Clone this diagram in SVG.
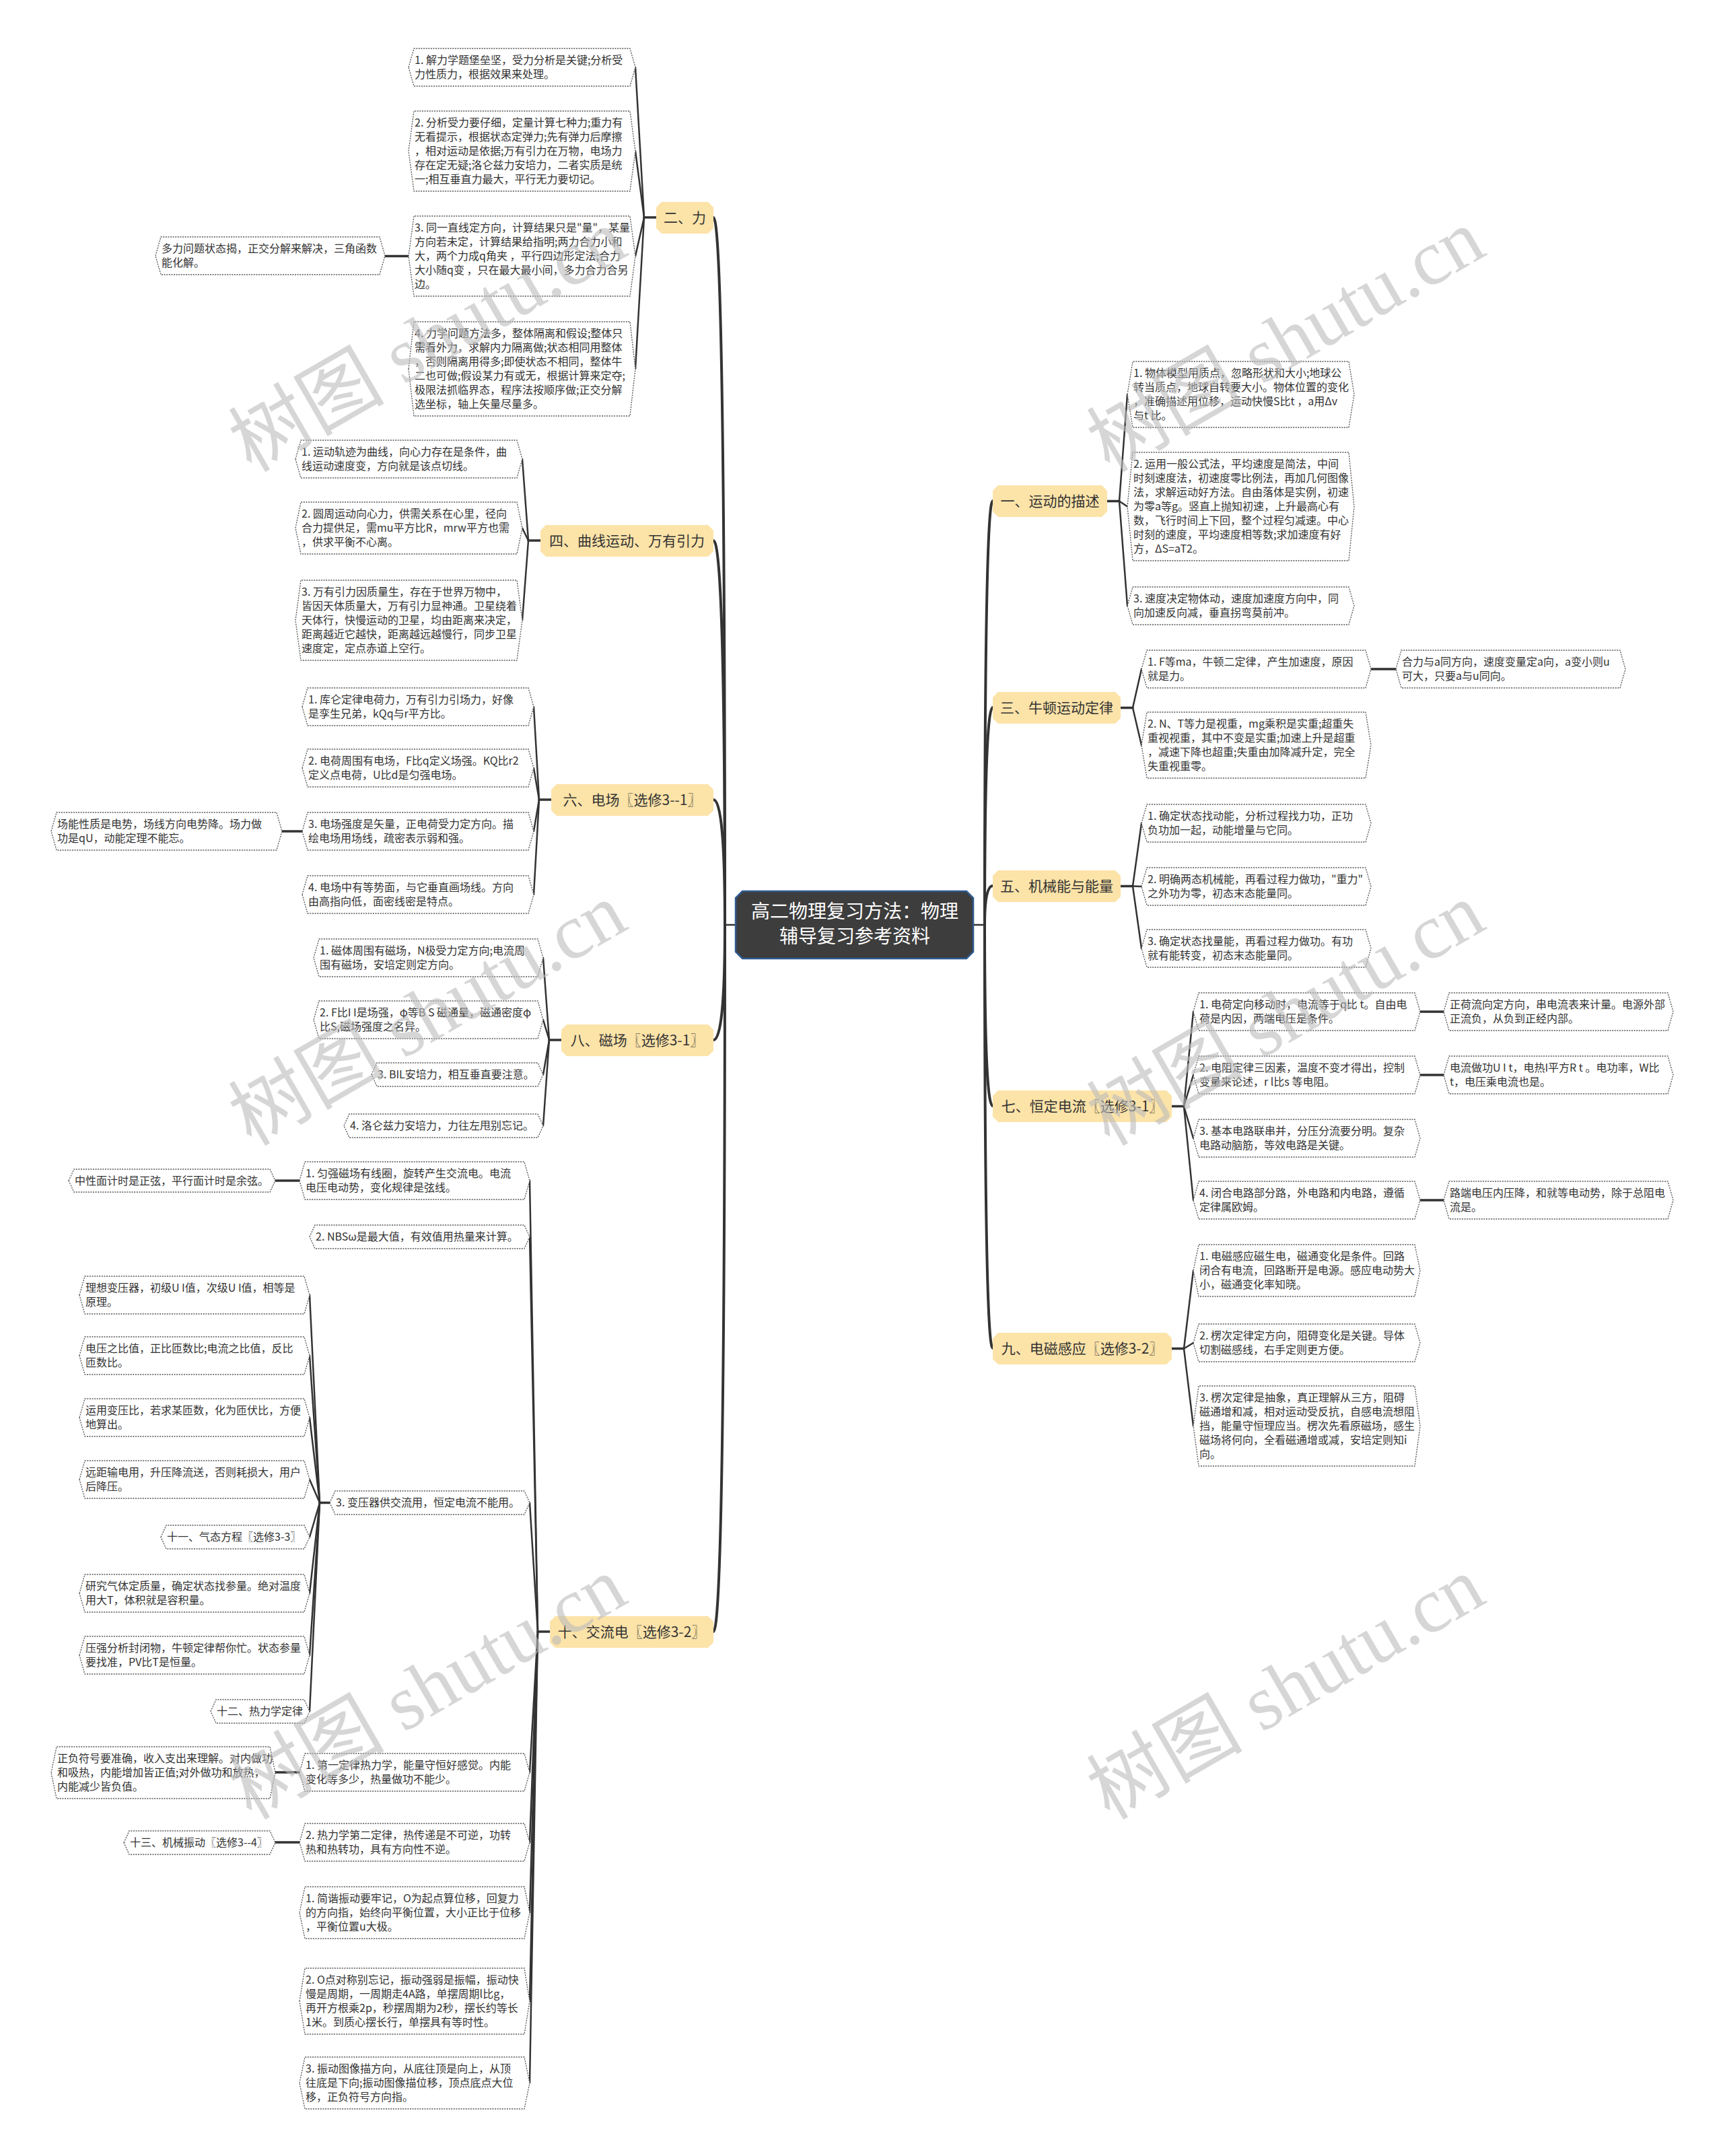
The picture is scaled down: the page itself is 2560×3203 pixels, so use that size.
<svg xmlns="http://www.w3.org/2000/svg" width="2560" height="3203" viewBox="0 0 2560 3203">
<style>
text{font-family:"Noto Sans CJK SC","Noto Sans",sans-serif;}
.leaf polygon{fill:#fff;stroke:#555;stroke-width:1.3;stroke-dasharray:2 1.6;}
.leaf text{font-size:16px;fill:#333;}
.br polygon{fill:#fce3a8;}
.br text{font-size:21px;fill:#333;text-anchor:middle;}
.ln path{fill:none;stroke:#333;stroke-width:2.5;stroke-linecap:round;}
.ln .tr{stroke-width:4;}
.ln .gc{stroke-width:3.5;}
.wm{font-family:"Liberation Serif","Noto Sans CJK SC",serif;font-size:116px;fill:#bcbcbc;opacity:0.6;text-anchor:middle;}
</style>
<rect width="2560" height="3203" fill="#fff"/>

<g id="connectors" class="ln">
<path d="M1093,1374 H1077"/>
<path class="tr" d="M1077,1374 Q1077,323 1060,323"/>
<path class="tr" d="M1077,1374 Q1077,803 1060,803"/>
<path class="tr" d="M1077,1374 Q1077,1188 1060,1188"/>
<path class="tr" d="M1077,1374 Q1077,1545 1060,1545"/>
<path class="tr" d="M1077,1374 Q1077,2424 1060,2424"/>
<path d="M1446,1374 H1463"/>
<path class="tr" d="M1463,1374 Q1463,744 1475,744"/>
<path class="tr" d="M1463,1374 Q1463,1051 1475,1051"/>
<path class="tr" d="M1463,1374 Q1463,1316 1475,1316"/>
<path class="tr" d="M1463,1374 Q1463,1643 1475,1643"/>
<path class="tr" d="M1463,1374 Q1463,2003 1475,2003"/>

<path class="gc" d="M975,323 H957"/>
<path d="M957,323 L944,100"/>
<path d="M957,323 L944,224.5"/>
<path d="M957,323 L944,380.5"/>
<path d="M957,323 L944,548"/>
<path class="gc" d="M607,380.5 H572"/>

<path class="gc" d="M803,803 H785"/>
<path d="M785,803 L776,682"/>
<path d="M785,803 L776,784.5"/>
<path d="M785,803 L776,921.5"/>

<path class="gc" d="M819,1188 H801"/>
<path d="M801,1188 L793,1050"/>
<path d="M801,1188 L793,1141"/>
<path d="M801,1188 L793,1235"/>
<path d="M801,1188 L793,1329"/>
<path class="gc" d="M449,1235 H419"/>

<path class="gc" d="M834,1545 H816"/>
<path d="M816,1545 L807,1423"/>
<path d="M816,1545 L807,1515"/>
<path d="M816,1545 L807,1596.5"/>
<path d="M816,1545 L807,1672.5"/>

<path class="gc" d="M817,2424 H799"/>
<path d="M799,2424 L787,1754"/>
<path d="M799,2424 L787,1837.5"/>
<path d="M799,2424 L787,2232.5"/>
<path d="M799,2424 L787,2633"/>
<path d="M799,2424 L787,2737"/>
<path d="M799,2424 L787,2841.5"/>
<path d="M799,2424 L787,2973"/>
<path d="M799,2424 L787,3094.5"/>
<path class="gc" d="M445,1754 H409"/>
<path class="gc" d="M490,2232.5 H475"/>
<path d="M475,2232.5 L460,1924"/>
<path d="M475,2232.5 L460,2014"/>
<path d="M475,2232.5 L460,2106"/>
<path d="M475,2232.5 L460,2198"/>
<path d="M475,2232.5 L460,2283.5"/>
<path d="M475,2232.5 L460,2367"/>
<path d="M475,2232.5 L460,2459"/>
<path d="M475,2232.5 L460,2542.5"/>
<path class="gc" d="M445,2633 H409"/>
<path class="gc" d="M445,2737 H409"/>

<path class="gc" d="M1645,744.5 H1663"/>
<path d="M1663,744.5 L1675,586"/>
<path d="M1663,744.5 L1675,752.5"/>
<path d="M1663,744.5 L1675,900"/>

<path class="gc" d="M1665,1051.5 H1683"/>
<path d="M1683,1051.5 L1696,994"/>
<path d="M1683,1051.5 L1696,1107"/>
<path class="gc" d="M2037,994 H2074"/>

<path class="gc" d="M1665,1316.5 H1683"/>
<path d="M1683,1316.5 L1696,1223"/>
<path d="M1683,1316.5 L1696,1317"/>
<path d="M1683,1316.5 L1696,1409"/>

<path class="gc" d="M1741,1643.5 H1759"/>
<path d="M1759,1643.5 L1773,1503"/>
<path d="M1759,1643.5 L1773,1597"/>
<path d="M1759,1643.5 L1773,1691"/>
<path d="M1759,1643.5 L1773,1783"/>
<path class="gc" d="M2110,1503 H2145"/>
<path class="gc" d="M2110,1597 H2145"/>
<path class="gc" d="M2110,1783 H2145"/>

<path class="gc" d="M1741,2003.5 H1759"/>
<path d="M1759,2003.5 L1773,1887.5"/>
<path d="M1759,2003.5 L1773,1995"/>
<path d="M1759,2003.5 L1773,2118.5"/>
</g>

<g id="center">
<polygon points="1103,1324 1436,1324 1446,1334 1446,1414 1436,1424 1103,1424 1093,1414 1093,1334" fill="#3d3d3d" stroke="#2f5a8f" stroke-width="2.5"/>
<text x="1270" y="1364" font-size="28" fill="#fff" text-anchor="middle">高二物理复习方法：物理</text>
<text x="1270" y="1401" font-size="28" fill="#fff" text-anchor="middle">辅导复习参考资料</text>
</g>

<!-- Left branches -->
<g id="b2" class="br"><polygon points="983,300 1052,300 1060,308 1060,339 1052,347 983,347 975,339 975,308"/><text x="1017.5" y="331">二、力</text></g>
<g id="b4" class="br"><polygon points="811,780 1052,780 1060,788 1060,819 1052,827 811,827 803,819 803,788"/><text x="931.5" y="811">四、曲线运动、万有引力</text></g>
<g id="b6" class="br"><polygon points="827,1165 1052,1165 1060,1173 1060,1204 1052,1212 827,1212 819,1204 819,1173"/><text x="939.5" y="1196">六、电场〖选修3--1〗</text></g>
<g id="b8" class="br"><polygon points="842,1522 1052,1522 1060,1530 1060,1561 1052,1569 842,1569 834,1561 834,1530"/><text x="947" y="1553">八、磁场〖选修3-1〗</text></g>
<g id="b10" class="br"><polygon points="825,2401 1052,2401 1060,2409 1060,2440 1052,2448 825,2448 817,2440 817,2409"/><text x="938.5" y="2432">十、交流电〖选修3-2〗</text></g>

<!-- Right branches -->
<g id="b1" class="br"><polygon points="1483,721 1637,721 1645,729 1645,760 1637,768 1483,768 1475,760 1475,729"/><text x="1560" y="752">一、运动的描述</text></g>
<g id="b3" class="br"><polygon points="1483,1028 1657,1028 1665,1036 1665,1067 1657,1075 1483,1075 1475,1067 1475,1036"/><text x="1570" y="1059">三、牛顿运动定律</text></g>
<g id="b5" class="br"><polygon points="1483,1293 1657,1293 1665,1301 1665,1332 1657,1340 1483,1340 1475,1332 1475,1301"/><text x="1570" y="1324">五、机械能与能量</text></g>
<g id="b7" class="br"><polygon points="1483,1620 1733,1620 1741,1628 1741,1659 1733,1667 1483,1667 1475,1659 1475,1628"/><text x="1608" y="1651">七、恒定电流〖选修3-1〗</text></g>
<g id="b9" class="br"><polygon points="1483,1980 1733,1980 1741,1988 1741,2019 1733,2027 1483,2027 1475,2019 1475,1988"/><text x="1608" y="2011">九、电磁感应〖选修3-2〗</text></g>

<!-- 二、力 leaves -->
<g id="l2_1" class="leaf"><polygon points="607,100 615,72 936,72 944,100 936,128 615,128"/><text><tspan x="616" y="95">1. 解力学题堡垒坚，受力分析是关键;分析受</tspan><tspan x="616" y="116">力性质力，根据效果来处理。</tspan></text></g>
<g id="l2_2" class="leaf"><polygon points="607,224.5 615,165 936,165 944,224.5 936,284 615,284"/><text><tspan x="616" y="188">2. 分析受力要仔细，定量计算七种力;重力有</tspan><tspan x="616" y="209">无看提示，根据状态定弹力;先有弹力后摩擦</tspan><tspan x="616" y="230">，相对运动是依据;万有引力在万物，电场力</tspan><tspan x="616" y="251">存在定无疑;洛仑兹力安培力，二者实质是统</tspan><tspan x="616" y="272">一;相互垂直力最大，平行无力要切记。</tspan></text></g>
<g id="l2_3" class="leaf"><polygon points="607,380.5 615,321 936,321 944,380.5 936,440 615,440"/><text><tspan x="616" y="344">3. 同一直线定方向，计算结果只是"量"，某量</tspan><tspan x="616" y="365">方向若未定，计算结果给指明;两力合力小和</tspan><tspan x="616" y="386">大，两个力成q角夹 ，平行四边形定法;合力</tspan><tspan x="616" y="407">大小随q变 ，只在最大最小间，多力合力合另</tspan><tspan x="616" y="428">边。</tspan></text></g>
<g id="l2_3a" class="leaf"><polygon points="231,380 239,352 564,352 572,380 564,408 239,408"/><text><tspan x="240" y="375">多力问题状态揭，正交分解来解决，三角函数</tspan><tspan x="240" y="396">能化解。</tspan></text></g>
<g id="l2_4" class="leaf"><polygon points="607,548 615,478 936,478 944,548 936,618 615,618"/><text><tspan x="616" y="501">4. 力学问题方法多，整体隔离和假设;整体只</tspan><tspan x="616" y="522">需看外力，求解内力隔离做;状态相同用整体</tspan><tspan x="616" y="543">，否则隔离用得多;即使状态不相同，整体牛</tspan><tspan x="616" y="564">二也可做;假设某力有或无，根据计算来定夺;</tspan><tspan x="616" y="585">极限法抓临界态，程序法按顺序做;正交分解</tspan><tspan x="616" y="606">选坐标，轴上矢量尽量多。</tspan></text></g>

<!-- 四 leaves -->
<g id="l4_1" class="leaf"><polygon points="439,682 447,654 768,654 776,682 768,710 447,710"/><text><tspan x="448" y="677">1. 运动轨迹为曲线，向心力存在是条件，曲</tspan><tspan x="448" y="698">线运动速度变，方向就是该点切线。</tspan></text></g>
<g id="l4_2" class="leaf"><polygon points="439,784.5 447,746 768,746 776,784.5 768,823 447,823"/><text><tspan x="448" y="769">2. 圆周运动向心力，供需关系在心里，径向</tspan><tspan x="448" y="790">合力提供足，需mu平方比R，mrw平方也需</tspan><tspan x="448" y="811">，供求平衡不心离。</tspan></text></g>
<g id="l4_3" class="leaf"><polygon points="439,921.5 447,862 768,862 776,921.5 768,981 447,981"/><text><tspan x="448" y="885">3. 万有引力因质量生，存在于世界万物中，</tspan><tspan x="448" y="906">皆因天体质量大，万有引力显神通。卫星绕着</tspan><tspan x="448" y="927">天体行，快慢运动的卫星，均由距离来决定，</tspan><tspan x="448" y="948">距离越近它越快，距离越远越慢行，同步卫星</tspan><tspan x="448" y="969">速度定，定点赤道上空行。</tspan></text></g>

<!-- 六 leaves -->
<g id="l6_1" class="leaf"><polygon points="449,1050 457,1022 785,1022 793,1050 785,1078 457,1078"/><text><tspan x="458" y="1045">1. 库仑定律电荷力，万有引力引场力，好像</tspan><tspan x="458" y="1066">是孪生兄弟，kQq与r平方比。</tspan></text></g>
<g id="l6_2" class="leaf"><polygon points="449,1141 457,1113 785,1113 793,1141 785,1169 457,1169"/><text><tspan x="458" y="1136">2. 电荷周围有电场，F比q定义场强。KQ比r2</tspan><tspan x="458" y="1157">定义点电荷，U比d是匀强电场。</tspan></text></g>
<g id="l6_3" class="leaf"><polygon points="449,1235 457,1207 785,1207 793,1235 785,1263 457,1263"/><text><tspan x="458" y="1230">3. 电场强度是矢量，正电荷受力定方向。描</tspan><tspan x="458" y="1251">绘电场用场线，疏密表示弱和强。</tspan></text></g>
<g id="l6_3a" class="leaf"><polygon points="76,1235 84,1207 411,1207 419,1235 411,1263 84,1263"/><text><tspan x="85" y="1230">场能性质是电势，场线方向电势降。场力做</tspan><tspan x="85" y="1251">功是qU，动能定理不能忘。</tspan></text></g>
<g id="l6_4" class="leaf"><polygon points="449,1329 457,1301 785,1301 793,1329 785,1357 457,1357"/><text><tspan x="458" y="1324">4. 电场中有等势面，与它垂直画场线。方向</tspan><tspan x="458" y="1345">由高指向低，面密线密是特点。</tspan></text></g>

<!-- 八 leaves -->
<g id="l8_1" class="leaf"><polygon points="466,1423 474,1395 799,1395 807,1423 799,1451 474,1451"/><text><tspan x="475" y="1418">1. 磁体周围有磁场，N极受力定方向;电流周</tspan><tspan x="475" y="1439">围有磁场，安培定则定方向。</tspan></text></g>
<g id="l8_2" class="leaf"><polygon points="466,1515 474,1487 799,1487 807,1515 799,1543 474,1543"/><text><tspan x="475" y="1510">2. F比I I是场强，φ等B S 磁通量，磁通密度φ</tspan><tspan x="475" y="1531">比S,磁场强度之名异。</tspan></text></g>
<g id="l8_3" class="leaf"><polygon points="552,1596.5 560,1579 799,1579 807,1596.5 799,1614 560,1614"/><text><tspan x="561" y="1602">3. BIL安培力，相互垂直要注意。</tspan></text></g>
<g id="l8_4" class="leaf"><polygon points="511,1672.5 519,1655 799,1655 807,1672.5 799,1690 519,1690"/><text><tspan x="520" y="1678">4. 洛仑兹力安培力，力往左甩别忘记。</tspan></text></g>

<!-- 十 leaves -->
<g id="l10_1" class="leaf"><polygon points="445,1754 453,1726 779,1726 787,1754 779,1782 453,1782"/><text><tspan x="454" y="1749">1. 匀强磁场有线圈，旋转产生交流电。电流</tspan><tspan x="454" y="1770">电压电动势，变化规律是弦线。</tspan></text></g>
<g id="l10_1a" class="leaf"><polygon points="102,1754 110,1737 401,1737 409,1754 401,1771 110,1771"/><text><tspan x="111" y="1760">中性面计时是正弦，平行面计时是余弦。</tspan></text></g>
<g id="l10_2" class="leaf"><polygon points="460,1837.5 468,1820 779,1820 787,1837.5 779,1855 468,1855"/><text><tspan x="469" y="1843">2. NBSω是最大值，有效值用热量来计算。</tspan></text></g>
<g id="l10_3" class="leaf"><polygon points="490,2232.5 498,2215 779,2215 787,2232.5 779,2250 498,2250"/><text><tspan x="499" y="2238">3. 变压器供交流用，恒定电流不能用。</tspan></text></g>
<g id="l10_3a" class="leaf"><polygon points="118,1924 126,1896 452,1896 460,1924 452,1952 126,1952"/><text><tspan x="127" y="1919">理想变压器，初级U I值，次级U I值，相等是</tspan><tspan x="127" y="1940">原理。</tspan></text></g>
<g id="l10_3b" class="leaf"><polygon points="118,2014 126,1986 452,1986 460,2014 452,2042 126,2042"/><text><tspan x="127" y="2009">电压之比值，正比匝数比;电流之比值，反比</tspan><tspan x="127" y="2030">匝数比。</tspan></text></g>
<g id="l10_3c" class="leaf"><polygon points="118,2106 126,2078 452,2078 460,2106 452,2134 126,2134"/><text><tspan x="127" y="2101">运用变压比，若求某匝数，化为匝伏比，方便</tspan><tspan x="127" y="2122">地算出。</tspan></text></g>
<g id="l10_3d" class="leaf"><polygon points="118,2198 126,2170 452,2170 460,2198 452,2226 126,2226"/><text><tspan x="127" y="2193">远距输电用，升压降流送，否则耗损大，用户</tspan><tspan x="127" y="2214">后降压。</tspan></text></g>
<g id="l10_3e" class="leaf"><polygon points="239,2283.5 247,2266 452,2266 460,2283.5 452,2301 247,2301"/><text><tspan x="248" y="2289">十一、气态方程〖选修3-3〗</tspan></text></g>
<g id="l10_3f" class="leaf"><polygon points="118,2367 126,2339 452,2339 460,2367 452,2395 126,2395"/><text><tspan x="127" y="2362">研究气体定质量，确定状态找参量。绝对温度</tspan><tspan x="127" y="2383">用大T，体积就是容积量。</tspan></text></g>
<g id="l10_3g" class="leaf"><polygon points="118,2459 126,2431 452,2431 460,2459 452,2487 126,2487"/><text><tspan x="127" y="2454">压强分析封闭物，牛顿定律帮你忙。状态参量</tspan><tspan x="127" y="2475">要找准，PV比T是恒量。</tspan></text></g>
<g id="l10_3h" class="leaf"><polygon points="313,2542.5 321,2525 452,2525 460,2542.5 452,2560 321,2560"/><text><tspan x="322" y="2548">十二、热力学定律</tspan></text></g>
<g id="l10_4" class="leaf"><polygon points="445,2633 453,2605 779,2605 787,2633 779,2661 453,2661"/><text><tspan x="454" y="2628">1. 第一定律热力学，能量守恒好感觉。内能</tspan><tspan x="454" y="2649">变化等多少，热量做功不能少。</tspan></text></g>
<g id="l10_4a" class="leaf"><polygon points="76,2633.5 84,2595 401,2595 409,2633.5 401,2672 84,2672"/><text><tspan x="85" y="2618">正负符号要准确，收入支出来理解。对内做功</tspan><tspan x="85" y="2639">和吸热，内能增加皆正值;对外做功和放热，</tspan><tspan x="85" y="2660">内能减少皆负值。</tspan></text></g>
<g id="l10_5" class="leaf"><polygon points="445,2737 453,2709 779,2709 787,2737 779,2765 453,2765"/><text><tspan x="454" y="2732">2. 热力学第二定律，热传递是不可逆，功转</tspan><tspan x="454" y="2753">热和热转功，具有方向性不逆。</tspan></text></g>
<g id="l10_5a" class="leaf"><polygon points="184,2737.5 192,2720 401,2720 409,2737.5 401,2755 192,2755"/><text><tspan x="193" y="2743">十三、机械振动〖选修3--4〗</tspan></text></g>
<g id="l10_6" class="leaf"><polygon points="445,2841.5 453,2803 779,2803 787,2841.5 779,2880 453,2880"/><text><tspan x="454" y="2826">1. 简谐振动要牢记，O为起点算位移，回复力</tspan><tspan x="454" y="2847">的方向指，始终向平衡位置，大小正比于位移</tspan><tspan x="454" y="2868">，平衡位置u大极。</tspan></text></g>
<g id="l10_7" class="leaf"><polygon points="445,2973 453,2924 779,2924 787,2973 779,3022 453,3022"/><text><tspan x="454" y="2947">2. O点对称别忘记，振动强弱是振幅，振动快</tspan><tspan x="454" y="2968">慢是周期，一周期走4A路，单摆周期l比g，</tspan><tspan x="454" y="2989">再开方根乘2p，秒摆周期为2秒，摆长约等长</tspan><tspan x="454" y="3010">1米。到质心摆长行，单摆具有等时性。</tspan></text></g>
<g id="l10_8" class="leaf"><polygon points="445,3094.5 453,3056 779,3056 787,3094.5 779,3133 453,3133"/><text><tspan x="454" y="3079">3. 振动图像描方向，从底往顶是向上，从顶</tspan><tspan x="454" y="3100">往底是下向;振动图像描位移，顶点底点大位</tspan><tspan x="454" y="3121">移，正负符号方向指。</tspan></text></g>

<!-- 一 leaves -->
<g id="r1_1" class="leaf"><polygon points="1675,586 1683,537 2004,537 2012,586 2004,635 1683,635"/><text><tspan x="1684" y="560">1. 物体模型用质点，忽略形状和大小;地球公</tspan><tspan x="1684" y="581">转当质点，地球自转要大小。物体位置的变化</tspan><tspan x="1684" y="602">，准确描述用位移，运动快慢S比t ，a用Δv</tspan><tspan x="1684" y="623">与t 比。</tspan></text></g>
<g id="r1_2" class="leaf"><polygon points="1675,752.5 1683,672 2004,672 2012,752.5 2004,833 1683,833"/><text><tspan x="1684" y="695">2. 运用一般公式法，平均速度是简法，中间</tspan><tspan x="1684" y="716">时刻速度法，初速度零比例法，再加几何图像</tspan><tspan x="1684" y="737">法，求解运动好方法。自由落体是实例，初速</tspan><tspan x="1684" y="758">为零a等g。竖直上抛知初速，上升最高心有</tspan><tspan x="1684" y="779">数，飞行时间上下回，整个过程匀减速。中心</tspan><tspan x="1684" y="800">时刻的速度，平均速度相等数;求加速度有好</tspan><tspan x="1684" y="821">方，ΔS=aT2。</tspan></text></g>
<g id="r1_3" class="leaf"><polygon points="1675,900 1683,872 2004,872 2012,900 2004,928 1683,928"/><text><tspan x="1684" y="895">3. 速度决定物体动，速度加速度方向中，同</tspan><tspan x="1684" y="916">向加速反向减，垂直拐弯莫前冲。</tspan></text></g>

<!-- 三 leaves -->
<g id="r3_1" class="leaf"><polygon points="1696,994 1704,966 2029,966 2037,994 2029,1022 1704,1022"/><text><tspan x="1705" y="989">1. F等ma，牛顿二定律，产生加速度，原因</tspan><tspan x="1705" y="1010">就是力。</tspan></text></g>
<g id="r3_1a" class="leaf"><polygon points="2074,994 2082,966 2407,966 2415,994 2407,1022 2082,1022"/><text><tspan x="2083" y="989">合力与a同方向，速度变量定a向，a变小则u</tspan><tspan x="2083" y="1010">可大，只要a与u同向。</tspan></text></g>
<g id="r3_2" class="leaf"><polygon points="1696,1107 1704,1058 2029,1058 2037,1107 2029,1156 1704,1156"/><text><tspan x="1705" y="1081">2. N、T等力是视重，mg乘积是实重;超重失</tspan><tspan x="1705" y="1102">重视视重，其中不变是实重;加速上升是超重</tspan><tspan x="1705" y="1123">，减速下降也超重;失重由加降减升定，完全</tspan><tspan x="1705" y="1144">失重视重零。</tspan></text></g>

<!-- 五 leaves -->
<g id="r5_1" class="leaf"><polygon points="1696,1223 1704,1195 2029,1195 2037,1223 2029,1251 1704,1251"/><text><tspan x="1705" y="1218">1. 确定状态找动能，分析过程找力功，正功</tspan><tspan x="1705" y="1239">负功加一起，动能增量与它同。</tspan></text></g>
<g id="r5_2" class="leaf"><polygon points="1696,1317 1704,1289 2029,1289 2037,1317 2029,1345 1704,1345"/><text><tspan x="1705" y="1312">2. 明确两态机械能，再看过程力做功，"重力"</tspan><tspan x="1705" y="1333">之外功为零，初态末态能量同。</tspan></text></g>
<g id="r5_3" class="leaf"><polygon points="1696,1409 1704,1381 2029,1381 2037,1409 2029,1437 1704,1437"/><text><tspan x="1705" y="1404">3. 确定状态找量能，再看过程力做功。有功</tspan><tspan x="1705" y="1425">就有能转变，初态末态能量同。</tspan></text></g>

<!-- 七 leaves -->
<g id="r7_1" class="leaf"><polygon points="1773,1503 1781,1475 2102,1475 2110,1503 2102,1531 1781,1531"/><text><tspan x="1782" y="1498">1. 电荷定向移动时，电流等于q比 t。自由电</tspan><tspan x="1782" y="1519">荷是内因，两端电压是条件。</tspan></text></g>
<g id="r7_1a" class="leaf"><polygon points="2145,1503 2153,1475 2478,1475 2486,1503 2478,1531 2153,1531"/><text><tspan x="2154" y="1498">正荷流向定方向，串电流表来计量。电源外部</tspan><tspan x="2154" y="1519">正流负，从负到正经内部。</tspan></text></g>
<g id="r7_2" class="leaf"><polygon points="1773,1597 1781,1569 2102,1569 2110,1597 2102,1625 1781,1625"/><text><tspan x="1782" y="1592">2. 电阻定律三因素，温度不变才得出，控制</tspan><tspan x="1782" y="1613">变量来论述，r l比s 等电阻。</tspan></text></g>
<g id="r7_2a" class="leaf"><polygon points="2145,1597 2153,1569 2478,1569 2486,1597 2478,1625 2153,1625"/><text><tspan x="2154" y="1592">电流做功U I t，电热I平方R t 。电功率，W比</tspan><tspan x="2154" y="1613">t，电压乘电流也是。</tspan></text></g>
<g id="r7_3" class="leaf"><polygon points="1773,1691 1781,1663 2102,1663 2110,1691 2102,1719 1781,1719"/><text><tspan x="1782" y="1686">3. 基本电路联串并，分压分流要分明。复杂</tspan><tspan x="1782" y="1707">电路动脑筋，等效电路是关键。</tspan></text></g>
<g id="r7_4" class="leaf"><polygon points="1773,1783 1781,1755 2102,1755 2110,1783 2102,1811 1781,1811"/><text><tspan x="1782" y="1778">4. 闭合电路部分路，外电路和内电路，遵循</tspan><tspan x="1782" y="1799">定律属欧姆。</tspan></text></g>
<g id="r7_4a" class="leaf"><polygon points="2145,1783 2153,1755 2478,1755 2486,1783 2478,1811 2153,1811"/><text><tspan x="2154" y="1778">路端电压内压降，和就等电动势，除于总阻电</tspan><tspan x="2154" y="1799">流是。</tspan></text></g>

<!-- 九 leaves -->
<g id="r9_1" class="leaf"><polygon points="1773,1887.5 1781,1849 2102,1849 2110,1887.5 2102,1926 1781,1926"/><text><tspan x="1782" y="1872">1. 电磁感应磁生电，磁通变化是条件。回路</tspan><tspan x="1782" y="1893">闭合有电流，回路断开是电源。感应电动势大</tspan><tspan x="1782" y="1914">小，磁通变化率知晓。</tspan></text></g>
<g id="r9_2" class="leaf"><polygon points="1773,1995 1781,1967 2102,1967 2110,1995 2102,2023 1781,2023"/><text><tspan x="1782" y="1990">2. 楞次定律定方向，阻碍变化是关键。导体</tspan><tspan x="1782" y="2011">切割磁感线，右手定则更方便。</tspan></text></g>
<g id="r9_3" class="leaf"><polygon points="1773,2118.5 1781,2059 2102,2059 2110,2118.5 2102,2178 1781,2178"/><text><tspan x="1782" y="2082">3. 楞次定律是抽象，真正理解从三方，阻碍</tspan><tspan x="1782" y="2103">磁通增和减，相对运动受反抗，自感电流想阻</tspan><tspan x="1782" y="2124">挡，能量守恒理应当。楞次先看原磁场，感生</tspan><tspan x="1782" y="2145">磁场将何向，全看磁通增或减，安培定则知i</tspan><tspan x="1782" y="2166">向。</tspan></text></g>

<g id="watermarks">
<text class="wm" transform="translate(655,540) rotate(-30)">树图 shutu.cn</text>
<text class="wm" transform="translate(1930,540) rotate(-30)">树图 shutu.cn</text>
<text class="wm" transform="translate(655,1541) rotate(-30)">树图 shutu.cn</text>
<text class="wm" transform="translate(1930,1541) rotate(-30)">树图 shutu.cn</text>
<text class="wm" transform="translate(655,2542) rotate(-30)">树图 shutu.cn</text>
<text class="wm" transform="translate(1930,2542) rotate(-30)">树图 shutu.cn</text>
</g>
</svg>
